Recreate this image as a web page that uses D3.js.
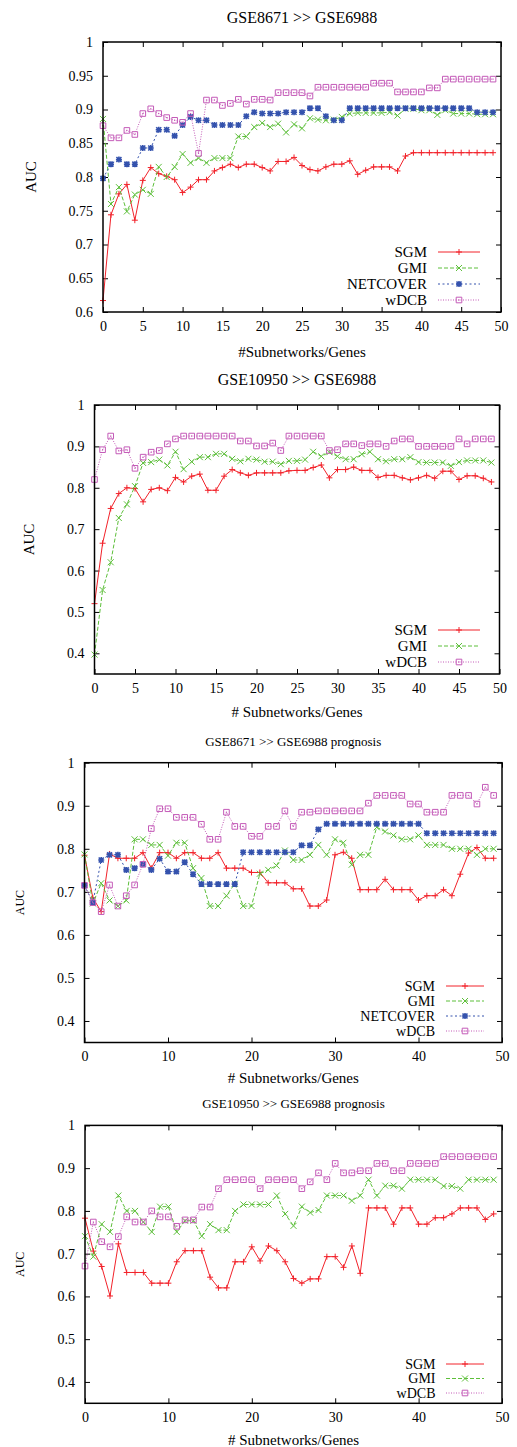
<!DOCTYPE html>
<html>
<head>
<meta charset="utf-8">
<title>AUC vs number of subnetworks</title>
<script src="https://d3js.org/d3.v7.min.js"></script>
<style>
  body { margin: 0; background: white; }
  svg { font-family: "Liberation Serif", "DejaVu Serif", serif; }
  .frame { fill: none; stroke: #000; stroke-width: 1.5; }
  .axis path { display: none; }
  .axis line { stroke: #000; stroke-width: 1; }
  .axis text { fill: #000; font-family: "Liberation Serif", "DejaVu Serif", serif; font-size: 14px; }
</style>
</head>
<body>
<svg id="chart" width="517" height="1447"></svg>
<script>
// x positions: number of subnetworks / genes
const subnetworks = d3.range(0, 50);

// GSE8671 >> GSE6988
const p1SGM = [0.617,0.744,0.775,0.789,0.736,0.795,0.814,0.805,0.801,0.796,
  0.777,0.785,0.796,0.796,0.809,0.814,0.819,0.814,0.819,0.819,
  0.814,0.809,0.823,0.823,0.829,0.817,0.811,0.809,0.815,0.819,
  0.819,0.824,0.804,0.810,0.815,0.815,0.815,0.809,0.831,0.836,
  0.836,0.836,0.836,0.836,0.836,0.836,0.836,0.836,0.836,0.836];
const p1GMI = [0.886,0.760,0.785,0.749,0.774,0.781,0.775,0.815,0.800,0.815,
  0.834,0.821,0.828,0.821,0.828,0.828,0.828,0.860,0.860,0.874,
  0.880,0.874,0.879,0.866,0.878,0.872,0.887,0.885,0.884,0.885,
  0.889,0.894,0.895,0.895,0.895,0.895,0.896,0.891,0.901,0.901,
  0.899,0.899,0.892,0.899,0.894,0.894,0.894,0.893,0.893,0.893];
const p1NETCOVER = [0.798,0.819,0.826,0.819,0.819,0.843,0.843,0.870,0.870,0.861,
  0.877,0.889,0.884,0.884,0.877,0.877,0.877,0.877,0.890,0.896,
  0.894,0.894,0.894,0.896,0.896,0.896,0.902,0.902,0.890,0.884,
  0.884,0.902,0.902,0.902,0.902,0.902,0.902,0.902,0.902,0.902,
  0.902,0.902,0.902,0.902,0.902,0.902,0.902,0.896,0.896,0.896];
const p1wDCB = [0.876,0.858,0.858,0.869,0.863,0.894,0.901,0.894,0.888,0.884,
  0.881,0.894,0.835,0.914,0.914,0.906,0.909,0.915,0.908,0.915,
  0.915,0.914,0.925,0.925,0.925,0.925,0.920,0.933,0.933,0.933,
  0.933,0.933,0.933,0.933,0.939,0.939,0.939,0.926,0.926,0.926,
  0.926,0.932,0.932,0.945,0.945,0.945,0.945,0.945,0.945,0.945];

// GSE10950 >> GSE6988
const p2SGM = [0.520,0.666,0.750,0.786,0.800,0.798,0.766,0.796,0.800,0.793,
  0.825,0.814,0.828,0.833,0.794,0.794,0.828,0.844,0.836,0.830,
  0.836,0.836,0.836,0.836,0.841,0.842,0.842,0.849,0.855,0.824,
  0.844,0.844,0.850,0.842,0.842,0.825,0.830,0.830,0.824,0.819,
  0.824,0.830,0.823,0.840,0.840,0.820,0.829,0.829,0.823,0.814];
const p2GMI = [0.397,0.553,0.620,0.727,0.760,0.804,0.860,0.862,0.868,0.854,
  0.887,0.845,0.863,0.874,0.874,0.882,0.882,0.870,0.864,0.870,
  0.868,0.863,0.863,0.857,0.865,0.865,0.868,0.887,0.876,0.886,
  0.876,0.869,0.869,0.881,0.887,0.869,0.864,0.869,0.869,0.874,
  0.862,0.861,0.861,0.861,0.853,0.862,0.866,0.866,0.866,0.861];
const p2wDCB = [0.820,0.892,0.925,0.889,0.892,0.847,0.874,0.886,0.890,0.906,
  0.918,0.925,0.925,0.925,0.925,0.925,0.925,0.925,0.913,0.913,
  0.901,0.901,0.908,0.890,0.925,0.925,0.925,0.925,0.925,0.890,
  0.892,0.906,0.906,0.902,0.906,0.906,0.900,0.913,0.918,0.918,
  0.900,0.900,0.900,0.900,0.900,0.918,0.906,0.918,0.918,0.918];

// GSE8671 >> GSE6988 prognosis
const p3SGM = [0.785,0.686,0.654,0.788,0.778,0.778,0.778,0.791,0.755,0.791,
  0.791,0.778,0.791,0.791,0.778,0.778,0.791,0.755,0.755,0.755,
  0.745,0.745,0.721,0.721,0.721,0.707,0.707,0.667,0.667,0.681,
  0.786,0.792,0.778,0.705,0.705,0.705,0.729,0.705,0.705,0.705,
  0.681,0.691,0.691,0.705,0.691,0.741,0.790,0.803,0.778,0.778];
const p3GMI = [0.787,0.673,0.720,0.680,0.667,0.680,0.822,0.822,0.809,0.809,
  0.784,0.814,0.814,0.755,0.732,0.667,0.667,0.691,0.719,0.667,
  0.667,0.742,0.751,0.761,0.796,0.774,0.774,0.786,0.809,0.786,
  0.822,0.814,0.763,0.786,0.786,0.850,0.840,0.831,0.822,0.822,
  0.831,0.809,0.809,0.809,0.800,0.800,0.800,0.786,0.800,0.800];
const p3NETCOVER = [0.715,0.675,0.774,0.786,0.786,0.751,0.755,0.764,0.751,0.777,
  0.747,0.747,0.769,0.741,0.718,0.718,0.718,0.718,0.718,0.792,
  0.792,0.792,0.792,0.792,0.792,0.792,0.808,0.808,0.845,0.858,
  0.858,0.858,0.858,0.858,0.858,0.858,0.858,0.858,0.858,0.858,
  0.858,0.836,0.836,0.836,0.836,0.836,0.836,0.836,0.836,0.836];
const p3wDCB = [0.715,0.675,0.654,0.716,0.667,0.691,0.716,0.764,0.847,0.893,
  0.893,0.873,0.873,0.873,0.857,0.822,0.822,0.885,0.852,0.852,
  0.829,0.829,0.852,0.852,0.888,0.852,0.885,0.885,0.888,0.888,
  0.888,0.888,0.888,0.888,0.906,0.924,0.924,0.924,0.924,0.904,
  0.904,0.885,0.885,0.885,0.924,0.924,0.924,0.904,0.943,0.924];

// GSE10950 >> GSE6988 prognosis
const p4SGM = [0.783,0.706,0.670,0.601,0.723,0.656,0.656,0.656,0.631,0.631,
  0.631,0.681,0.707,0.707,0.707,0.645,0.620,0.620,0.681,0.681,
  0.716,0.683,0.718,0.707,0.681,0.642,0.631,0.641,0.641,0.693,
  0.693,0.668,0.718,0.654,0.807,0.807,0.807,0.769,0.807,0.807,
  0.769,0.769,0.784,0.784,0.793,0.807,0.807,0.807,0.780,0.793];
const p4GMI = [0.741,0.693,0.769,0.751,0.836,0.800,0.800,0.774,0.751,0.810,
  0.810,0.751,0.777,0.777,0.741,0.769,0.755,0.755,0.800,0.815,
  0.815,0.815,0.815,0.836,0.793,0.765,0.810,0.796,0.802,0.836,
  0.836,0.836,0.824,0.836,0.873,0.836,0.859,0.859,0.852,0.873,
  0.873,0.873,0.873,0.858,0.858,0.852,0.873,0.873,0.873,0.873];
const p4wDCB = [0.671,0.774,0.728,0.716,0.740,0.786,0.774,0.774,0.800,0.786,
  0.786,0.764,0.779,0.779,0.809,0.809,0.852,0.873,0.873,0.873,
  0.873,0.852,0.873,0.873,0.873,0.873,0.852,0.868,0.889,0.873,
  0.911,0.889,0.889,0.894,0.894,0.911,0.911,0.894,0.894,0.911,
  0.911,0.911,0.911,0.927,0.927,0.927,0.927,0.927,0.927,0.927];

// tick values
const yTicksFine = [0.6,0.65,0.7,0.75,0.8,0.85,0.9,0.95,1];
const yTicksCoarse = [0.4,0.5,0.6,0.7,0.8,0.9,1];
const xTicksFine = [0,5,10,15,20,25,30,35,40,45,50];
const xTicksCoarse = [0,10,20,30,40,50];

const colors = { SGM: "#f2222a", GMI: "#5dbf3a", NETCOVER: "#3452ad", wDCB: "#c45bb8" };
const dashes = { SGM: null, GMI: "4,2", NETCOVER: "2,2.5", wDCB: "1,1.5" };
const markers = {
  SGM: "M-3,0H3M0,-3V3",
  GMI: "M-3,-3L3,3M-3,3L3,-3",
  NETCOVER: "M-3,0H3M0,-3V3M-2.5,-2.5L2.5,2.5M-2.5,2.5L2.5,-2.5",
  wDCB: "M-2.8,-2.8H2.8V2.8H-2.8Z"
};

const panels = [
  { title: "GSE8671 >> GSE6988", titleY: 17, titleSize: 16,
    box: [103, 501, 42, 312], yDomain: [0.6, 1], yTicks: yTicksFine, xTicks: xTicksFine,
    xLabel: "#Subnetworks/Genes", xLabelY: 352, yLabelX: 31, yLabelSize: 15,
    legendX: 427, legendY: 252, legendStep: 16, legendLine: [438, 480], legendSize: 15,
    series: [["SGM", p1SGM], ["GMI", p1GMI], ["NETCOVER", p1NETCOVER], ["wDCB", p1wDCB]] },
  { title: "GSE10950 >> GSE6988", titleY: 379, titleSize: 16,
    box: [94.5, 499.5, 405, 674], yDomain: [0.35, 1], yTicks: yTicksCoarse, xTicks: xTicksFine,
    xLabel: "# Subnetworks/Genes", xLabelY: 712, yLabelX: 29, yLabelSize: 15,
    legendX: 427, legendY: 630, legendStep: 16, legendLine: [438, 480], legendSize: 15,
    series: [["SGM", p2SGM], ["GMI", p2GMI], ["wDCB", p2wDCB]] },
  { title: "GSE8671 >> GSE6988 prognosis", titleY: 741, titleSize: 13,
    box: [84.5, 502, 762.7, 1042.5], yDomain: [0.35, 1], yTicks: yTicksCoarse, xTicks: xTicksCoarse,
    xLabel: "# Subnetworks/Genes", xLabelY: 1078, yLabelX: 20, yLabelSize: 12,
    legendX: 435, legendY: 986, legendStep: 15, legendLine: [446, 484], legendSize: 14,
    series: [["SGM", p3SGM], ["GMI", p3GMI], ["NETCOVER", p3NETCOVER], ["wDCB", p3wDCB]] },
  { title: "GSE10950 >> GSE6988 prognosis", titleY: 1103, titleSize: 13,
    box: [85, 502, 1125.4, 1403.3], yDomain: [0.35, 1], yTicks: yTicksCoarse, xTicks: xTicksCoarse,
    xLabel: "# Subnetworks/Genes", xLabelY: 1440, yLabelX: 20, yLabelSize: 12,
    legendX: 435.5, legendY: 1364, legendStep: 14.5, legendLine: [446, 484], legendSize: 14,
    series: [["SGM", p4SGM], ["GMI", p4GMI], ["wDCB", p4wDCB]] }
];

const svg = d3.select("#chart");
const fmt = d => String(+d.toFixed(2));

function drawMarker(g, name) {
  g.append("path")
    .attr("d", markers[name])
    .attr("fill", "none")
    .attr("stroke", colors[name])
    .attr("stroke-width", name === "NETCOVER" ? 1.6 : 1);
  if (name === "wDCB") {
    g.append("rect").attr("x", -0.6).attr("y", -0.6).attr("width", 1.2).attr("height", 1.2)
      .attr("fill", colors[name]);
  }
}

panels.forEach(p => {
  const [x0, x1, y0, y1] = p.box;
  const x = d3.scaleLinear().domain([0, 50]).range([x0, x1]);
  const y = d3.scaleLinear().domain(p.yDomain).range([y1, y0]);
  const g = svg.append("g");

  // axes: ticks point inward, mirrored on top and right
  const axes = [
    [d3.axisLeft(y).tickValues(p.yTicks).tickPadding(10).tickFormat(fmt), `translate(${x0},0)`],
    [d3.axisRight(y).tickValues(p.yTicks).tickFormat(""), `translate(${x1},0)`],
    [d3.axisBottom(x).tickValues(p.xTicks).tickPadding(9).tickFormat(fmt), `translate(0,${y1})`],
    [d3.axisTop(x).tickValues(p.xTicks).tickFormat(""), `translate(0,${y0})`]
  ];
  axes.forEach(([ax, tr]) => {
    g.append("g").attr("class", "axis").attr("transform", tr)
      .call(ax.tickSize(-5))
      .attr("font-family", null).attr("font-size", null);
  });

  // series lines and point markers
  const line = d3.line().x((d, i) => x(subnetworks[i])).y(d => y(d));
  p.series.forEach(([name, vals]) => {
    g.append("path")
      .datum(vals)
      .attr("d", line)
      .attr("fill", "none")
      .attr("stroke", colors[name])
      .attr("stroke-width", 1)
      .attr("stroke-dasharray", dashes[name]);
    g.append("g").selectAll("g")
      .data(vals)
      .join("g")
      .attr("transform", (d, i) => `translate(${x(subnetworks[i])},${y(d)})`)
      .each(function () { drawMarker(d3.select(this), name); });
  });

  g.append("rect").attr("class", "frame")
    .attr("x", x0).attr("y", y0).attr("width", x1 - x0).attr("height", y1 - y0);

  // titles and axis labels
  g.append("text").attr("x", (x0 + x1) / 2).attr("y", p.titleY).attr("dy", "0.35em")
    .attr("text-anchor", "middle").style("font-size", p.titleSize + "px").text(p.title);
  g.append("text").attr("x", (x0 + x1) / 2).attr("y", p.xLabelY).attr("dy", "0.35em")
    .attr("text-anchor", "middle").style("font-size", "15px").text(p.xLabel);
  g.append("text")
    .attr("transform", `translate(${p.yLabelX},${(y0 + y1) / 2}) rotate(-90)`)
    .attr("dy", "0.35em").attr("text-anchor", "middle")
    .style("font-size", p.yLabelSize + "px").text("AUC");

  // legend
  p.series.forEach(([name], k) => {
    const ly = p.legendY + k * p.legendStep;
    g.append("text").attr("x", p.legendX).attr("y", ly).attr("dy", "0.35em")
      .attr("text-anchor", "end").style("font-size", p.legendSize + "px").text(name);
    g.append("line")
      .attr("x1", p.legendLine[0]).attr("x2", p.legendLine[1]).attr("y1", ly).attr("y2", ly)
      .attr("stroke", colors[name]).attr("stroke-width", 1)
      .attr("stroke-dasharray", dashes[name]);
    const mg = g.append("g")
      .attr("transform", `translate(${(p.legendLine[0] + p.legendLine[1]) / 2},${ly})`);
    drawMarker(mg, name);
  });
});
</script>
</body>
</html>
